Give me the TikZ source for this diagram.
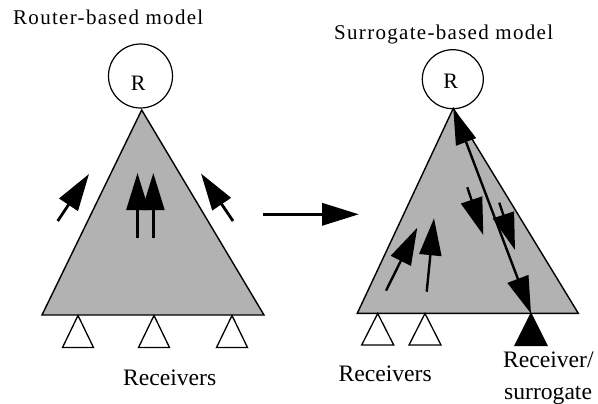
\documentclass[tikz,border=0pt]{standalone}
\usepackage{fontspec}
\setmainfont{Liberation Serif}
\usetikzlibrary{arrows.meta,shapes.geometric}
\begin{document}
\begin{tikzpicture}[x=1pt,y=-1pt,
  tree/.style={fill=black!30, draw=black, line width=1.4pt, line join=miter},
  rcv/.style={draw=black, fill=white, line width=1.3pt},
  rcvsur/.style={draw=black, fill=black, line width=1.3pt},
  root/.style={draw=black, line width=1.2pt, inner sep=0pt},
  flow/.style={line width=2.8pt, -{Triangle[length=37pt,width=22pt]}},
  bothflow/.style={line width=2.4pt, {Triangle[length=36pt,width=21pt]}-{Triangle[length=37pt,width=22pt]}},
  bigflow/.style={line width=3.6pt, -{Triangle[length=37pt,width=22pt]}},
  lbl/.style={font=\fontsize{23.6}{26}\selectfont, inner sep=0pt, anchor=base west},
  rlbl/.style={font=\fontsize{22}{24}\selectfont, inner sep=0pt, anchor=base},
  ttl/.style={font=\fontsize{21}{24}\selectfont\addfontfeature{LetterSpace=6.2}, inner sep=0pt, anchor=base west}]

\useasboundingbox (0,0) rectangle (598,404);

% ---------- router-based model ----------
\node[ttl] (titleL) at (13,24.3) {Router-based model};
\node[root, circle, minimum size=64pt] (rootL) at (140.5,76) {};
\node[rlbl] (rootLtxt) at (138.2,91) {R};

\coordinate (apexL) at (141.7,110);
\coordinate (blL) at (42,315);
\coordinate (brL) at (264,315);
\draw[tree] (apexL) -- (brL) -- (blL) -- cycle;

\foreach \n/\x in {1/78, 2/154, 3/232}{
  \coordinate (rcvL\n) at (\x,315.5);
  \draw[rcv] (rcvL\n) -- ++(15.5,32) -- ++(-31,0) -- cycle;
}
\node[lbl] (recvL) at (123,385) {Receivers};

\coordinate (aL1s) at (57.7,221);   \coordinate (aL1e) at (89,174);
\coordinate (aL2s) at (137.5,238);  \coordinate (aL2e) at (137.5,173);
\coordinate (aL3s) at (153.3,238);  \coordinate (aL3e) at (153.3,173);
\coordinate (aL4s) at (233,221);    \coordinate (aL4e) at (201,173.5);
\draw[flow] (aL1s) -- (aL1e);
\draw[flow] (aL2s) -- (aL2e);
\draw[flow] (aL3s) -- (aL3e);
\draw[flow] (aL4s) -- (aL4e);

% ---------- transition ----------
\coordinate (mids) at (263,214.3);
\coordinate (mide) at (359,214.3);
\draw[bigflow] (mids) -- (mide);

% ---------- surrogate-based model ----------
\node[ttl] (titleR) at (334,40) {Surrogate-based model};
\node[root, ellipse, minimum width=61pt, minimum height=59pt] (rootR) at (452.8,79.2) {};
\node[rlbl] (rootRtxt) at (450.7,88.3) {R};

\coordinate (apexR) at (453.3,108.3);
\coordinate (blR) at (357.3,313.3);
\coordinate (brR) at (578.3,313.3);
\draw[tree] (apexR) -- (brR) -- (blR) -- cycle;

\foreach \n/\x in {1/377.7, 2/425}{
  \coordinate (rcvR\n) at (\x,313.5);
  \draw[rcv] (rcvR\n) -- ++(16,31.5) -- ++(-32,0) -- cycle;
}
\coordinate (surr) at (531,313.5);
\draw[rcvsur] (surr) -- ++(16,32) -- ++(-32,0) -- cycle;

\node[lbl] (recvR) at (338.5,381) {Receivers};
\node[lbl] (surrl1) at (503,367) {Receiver/};
\node[lbl] (surrl2) at (504,399) {surrogate};

\coordinate (aR1s) at (467.3,187.3); \coordinate (aR1e) at (483.3,235);
\coordinate (aR2s) at (499.3,202.7); \coordinate (aR2e) at (515,250);
\coordinate (aR3s) at (386,290.7);   \coordinate (aR3e) at (417.3,227.7);
\coordinate (aR4s) at (426.7,291.7); \coordinate (aR4e) at (434,218.3);
\draw[bothflow] (apexR) -- (surr);
\draw[flow, line width=2.4pt] (aR1s) -- (aR1e);
\draw[flow, line width=2.4pt] (aR2s) -- (aR2e);
\draw[flow, line width=2.4pt] (aR3s) -- (aR3e);
\draw[flow, line width=2.4pt] (aR4s) -- (aR4e);
\end{tikzpicture}
\end{document}
